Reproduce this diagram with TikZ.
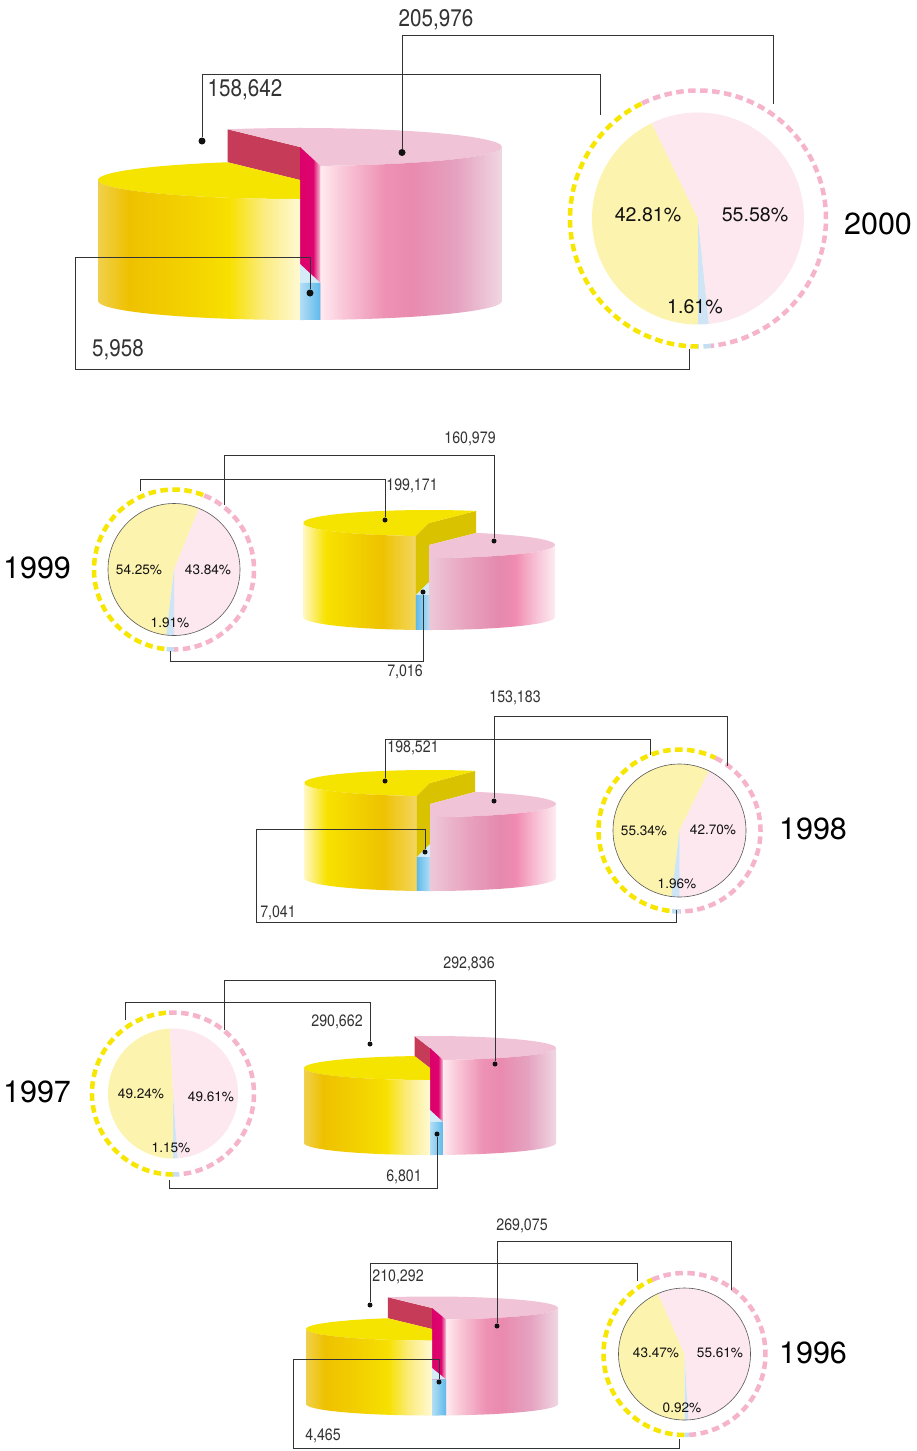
\documentclass[tikz,border=0pt]{standalone}
\usepackage{fontspec}
\setmainfont{TeX Gyre Heros}
\newfontfamily\condfont[FakeStretch=0.86]{TeX Gyre Heros}
\usepackage{xcolor}
\definecolor{Ink}{HTML}{111111}
\definecolor{Lead}{HTML}{333333}
\definecolor{PieYel}{HTML}{FCF3AE}
\definecolor{PiePink}{HTML}{FCE8EE}
\definecolor{PieBlue}{HTML}{CFE5F6}
\definecolor{RingYel}{HTML}{F7E600}
\definecolor{RingPink}{HTML}{F5B4CB}
\definecolor{RingBlue}{HTML}{C5DFF2}
\definecolor{TopYel}{HTML}{F5E400}
\definecolor{TopPink}{HTML}{F0C4D6}
\definecolor{TopBlue}{HTML}{D4EBF8}
\definecolor{CutRed}{HTML}{C63C58}
\definecolor{CutOlive}{HTML}{D9C200}
\definecolor{yA0}{HTML}{F0D04C}\definecolor{yA1}{HTML}{EEC100}\definecolor{yA2}{HTML}{F3D200}
\definecolor{yA3}{HTML}{F7E000}\definecolor{yA4}{HTML}{FBEC80}\definecolor{yA5}{HTML}{FFF9D4}
\definecolor{yB0}{HTML}{FFF8C4}\definecolor{yB1}{HTML}{F8E200}\definecolor{yB2}{HTML}{F2D200}
\definecolor{yB3}{HTML}{EEC200}\definecolor{yB4}{HTML}{F3D660}
\definecolor{pA0}{HTML}{FFEAF0}\definecolor{pA1}{HTML}{F9C8D8}\definecolor{pA2}{HTML}{EE92B4}
\definecolor{pA3}{HTML}{E98AAE}\definecolor{pA4}{HTML}{E5A2C0}\definecolor{pA5}{HTML}{F0D6E2}
\definecolor{pB0}{HTML}{EDC8D8}\definecolor{pB1}{HTML}{E8A2BE}\definecolor{pB2}{HTML}{E48AAE}
\definecolor{pB3}{HTML}{F08AB0}\definecolor{pB4}{HTML}{F8C2D6}\definecolor{pB5}{HTML}{FDEBF1}
\definecolor{bA0}{HTML}{B4DEF5}\definecolor{bA1}{HTML}{5EBAEB}
\definecolor{mA0}{HTML}{DC006A}\definecolor{mA1}{HTML}{DE0470}\definecolor{mA2}{HTML}{F7C4D6}
\pgfdeclarehorizontalshading{yelA}{100bp}{color(0bp)=(yA0); color(25bp)=(yA0); color(32.5bp)=(yA1); color(47.5bp)=(yA2); color(57.5bp)=(yA3); color(66bp)=(yA4); color(75bp)=(yA5); color(100bp)=(yA5)}
\pgfdeclarehorizontalshading{yelB}{100bp}{color(0bp)=(yB0); color(25bp)=(yB0); color(35bp)=(yB1); color(47.5bp)=(yB2); color(60bp)=(yB3); color(75bp)=(yB4); color(100bp)=(yB4)}
\pgfdeclarehorizontalshading{pinkA}{100bp}{color(0bp)=(pA0); color(25bp)=(pA0); color(31bp)=(pA1); color(42.5bp)=(pA2); color(50bp)=(pA3); color(62.5bp)=(pA4); color(75bp)=(pA5); color(100bp)=(pA5)}
\pgfdeclarehorizontalshading{pinkB}{100bp}{color(0bp)=(pB0); color(25bp)=(pB0); color(40bp)=(pB1); color(52.5bp)=(pB2); color(59bp)=(pB3); color(67.5bp)=(pB4); color(75bp)=(pB5); color(100bp)=(pB5)}
\pgfdeclarehorizontalshading{blueA}{100bp}{color(0bp)=(bA0); color(25bp)=(bA0); color(75bp)=(bA1); color(100bp)=(bA1)}
\pgfdeclarehorizontalshading{blueB}{100bp}{color(0bp)=(bA1); color(25bp)=(bA1); color(75bp)=(bA0); color(100bp)=(bA0)}
\pgfdeclarehorizontalshading{magA}{100bp}{color(0bp)=(mA0); color(25bp)=(mA0); color(57bp)=(mA1); color(75bp)=(mA2); color(100bp)=(mA2)}
% pie: centre, radius, ring radius, yellow from, split, pink to, rim style
\newcommand{\flatpie}[7]{%
  \fill[PieYel] (#1) -- ++({#2*cos(#4)},{#2*sin(#4)}) arc[start angle=#4,end angle=#5,radius=#2] -- cycle;
  \fill[PiePink] (#1) -- ++({#2*cos(#5)},{#2*sin(#5)}) arc[start angle=#5,end angle=#6,radius=#2] -- cycle;
  \fill[PieBlue] (#1) -- ++({#2*cos(#6)},{#2*sin(#6)}) arc[start angle=#6,end angle=#4+360,radius=#2] -- cycle;
  \draw[#7] (#1) circle[radius=#2];
  \draw[ring,RingYel] (#1) ++({#3*cos(#4)},{#3*sin(#4)}) arc[start angle=#4,end angle=#5,radius=#3];
  \draw[ring,RingPink] (#1) ++({#3*cos(#5)},{#3*sin(#5)}) arc[start angle=#5,end angle=#6,radius=#3];
  \draw[ring,RingBlue] (#1) ++({#3*cos(#6)},{#3*sin(#6)}) arc[start angle=#6,end angle=#4+360,radius=#3];}
% cylinder, pink tall: cx, rx, ry, yellow top, pink top, blue top, bottom, split, pink end
\newcommand{\cylA}[9]{%
  \fill[CutRed] (#1,#5) -- ++({#2*cos(#8)},{#3*sin(#8)}) -- ++(0,#4-#5) -- (#1,#4) -- cycle;
  \fill[TopPink] (#1,#5) -- ++({#2*cos(#8)},{#3*sin(#8)}) arc[start angle=#8,end angle=#9+360,x radius=#2,y radius=#3] -- cycle;
  \shade[shading=pinkA] ({#1+#2},#5) arc[start angle=0,end angle=#9,x radius=#2,y radius=#3] -- ++(0,#7-#5) arc[start angle=#9,end angle=0,x radius=#2,y radius=#3] -- cycle;
  \shade[shading=magA] (#1,#5) -- ++({#2*cos(#9)},{#3*sin(#9)}) -- ++(0,#7-#5) -- (#1,#7) -- cycle;
  \fill[TopYel] (#1,#4) -- ++(0,#3) arc[start angle=90,end angle=#8,x radius=#2,y radius=#3] -- cycle;
  \shade[shading=yelA] (#1,{#4+#3}) arc[start angle=90,end angle=180,x radius=#2,y radius=#3] -- ++(0,#7-#4) arc[start angle=180,end angle=90,x radius=#2,y radius=#3] -- cycle;
  \fill[TopBlue] (#1,#6) -- ++({#2*cos(#9)},{#3*sin(#9)}) arc[start angle=#9,end angle=90,x radius=#2,y radius=#3] -- cycle;
  \shade[shading=blueA] ({#1+#2*cos(#9)},{#6+#3*sin(#9)}) arc[start angle=#9,end angle=90,x radius=#2,y radius=#3] -- ++(0,#7-#6) arc[start angle=90,end angle=#9,x radius=#2,y radius=#3] -- cycle;}
% cylinder, yellow tall: cx, rx, ry, yellow top, pink top, blue top, bottom, yellow start, split
\newcommand{\cylB}[9]{%
  \fill[CutOlive] (#1,#4) -- ++({#2*cos(#9)},{#3*sin(#9)}) -- ++(0,#5-#4) -- (#1,#5) -- cycle;
  \fill[TopYel] (#1,#4) -- ++({#2*cos(#8)},{#3*sin(#8)}) arc[start angle=#8,end angle=#9,x radius=#2,y radius=#3] -- cycle;
  \shade[shading=yelB] ({#1+#2*cos(#8)},{#4+#3*sin(#8)}) arc[start angle=#8,end angle=180,x radius=#2,y radius=#3] -- ++(0,#7-#4) arc[start angle=180,end angle=#8,x radius=#2,y radius=#3] -- cycle;
  \fill[CutOlive] (#1,#4) -- ++({#2*cos(#8)},{#3*sin(#8)}) -- ++(0,#7-#4) -- (#1,#7) -- cycle;
  \fill[TopPink] (#1,#5) -- ++({#2*cos(#9)},{#3*sin(#9)}) arc[start angle=#9,end angle=450,x radius=#2,y radius=#3] -- cycle;
  \shade[shading=pinkB] ({#1+#2},#5) arc[start angle=0,end angle=90,x radius=#2,y radius=#3] -- ++(0,#7-#5) arc[start angle=90,end angle=0,x radius=#2,y radius=#3] -- cycle;
  \fill[TopBlue] (#1,#6) -- ++(0,#3) arc[start angle=90,end angle=#8,x radius=#2,y radius=#3] -- cycle;
  \shade[shading=blueB] (#1,{#6+#3}) arc[start angle=90,end angle=#8,x radius=#2,y radius=#3] -- ++(0,#7-#6) arc[start angle=#8,end angle=90,x radius=#2,y radius=#3] -- cycle;}

\begin{document}
\begin{tikzpicture}[x=1pt,y=-1pt,every node/.style={text=Ink,inner sep=0pt,text depth=0pt},
  conn/.style={draw=Lead,line width=1pt},
  dot/.style={circle,fill=Ink,inner sep=0pt,minimum size=5pt},
  bigdot/.style={dot,minimum size=7pt},
  val/.style={font=\condfont\fontsize{16.5}{20}\selectfont,text=Lead},
  bigval/.style={font=\condfont\fontsize{24}{28}\selectfont,text=Lead},
  pct/.style={font=\fontsize{13.6}{16}\selectfont},
  bigpct/.style={font=\fontsize{19.6}{23}\selectfont},
  yr/.style={font=\fontsize{30.5}{36}\selectfont,text=black},
  rim/.style={draw=Ink!70,line width=0.6pt},
  ring/.style={line width=4.5pt,dash pattern=on 7.5pt off 4.5pt}]
\useasboundingbox (0,0) rectangle (917,1451);
\fill[white] (0,0) rectangle (917,1451);
\coordinate (p2000) at (698,218.5);
\coordinate (p1999) at (174,569.5);
\coordinate (p1998) at (679.5,830.5);
\coordinate (p1997) at (173,1093.5);
\coordinate (p1996) at (684.5,1354);
\flatpie{p2000}{106}{128}{90}{244.1}{444.2}{draw=none}
\flatpie{p1999}{66}{80}{96.9}{292.2}{450}{rim}
\flatpie{p1998}{66.5}{81}{97.1}{296.3}{450}{rim}
\flatpie{p1997}{65}{81}{90}{267.3}{445.9}{draw=none}
\flatpie{p1996}{66}{81}{90}{246.5}{446.7}{rim}
\cylA{300}{202}{19}{180}{147}{264}{301}{249}{84.2}
\cylB{429}{126}{13}{523}{545}{582}{617}{96}{292}
\cylB{430}{126}{13}{783}{804}{844}{878}{96}{291}
\cylA{430}{126}{12}{1068}{1048}{1110}{1143}{263}{84.1}
\cylA{432}{126}{11.5}{1329}{1308}{1368}{1404}{249.5}{83.6}

\node[bigpct] (q2000y) at (648,215) {42.81\%};
\node[bigpct] (q2000p) at (755,215) {55.58\%};
\node[bigpct] (q2000b) at (695,307) {1.61\%};
\node[pct] (q1999y) at (139,570) {54.25\%};
\node[pct] (q1999p) at (208,570) {43.84\%};
\node[pct] (q1999b) at (170,623) {1.91\%};
\node[pct] (q1998y) at (644,831) {55.34\%};
\node[pct] (q1998p) at (713,830) {42.70\%};
\node[pct] (q1998b) at (677,884) {1.96\%};
\node[pct] (q1997y) at (141,1094) {49.24\%};
\node[pct] (q1997p) at (211,1097) {49.61\%};
\node[pct] (q1997b) at (171,1148) {1.15\%};
\node[pct] (q1996y) at (656,1353) {43.47\%};
\node[pct] (q1996p) at (720,1353) {55.61\%};
\node[pct] (q1996b) at (682,1408) {0.92\%};

\node[yr] (y2000) at (878,224) {2000};
\node[yr] (y1999) at (37,568) {1999};
\node[yr] (y1998) at (813,829) {1998};
\node[yr] (y1997) at (37,1092) {1997};
\node[yr] (y1996) at (813,1353) {1996};

\node[bigdot] (d2000y) at (202,141) {};
\node[bigdot] (d2000p) at (402,152.5) {};
\node[bigdot] (d2000b) at (310,293) {};
\node[dot] (d1999y) at (385,520) {};
\node[dot] (d1999p) at (494,541) {};
\node[dot] (d1999b) at (423,592) {};
\node[dot] (d1998y) at (385,781) {};
\node[dot] (d1998p) at (494,801) {};
\node[dot] (d1998b) at (425,852) {};
\node[dot] (d1997y) at (370,1044) {};
\node[dot] (d1997p) at (495,1064) {};
\node[dot] (d1997b) at (437,1134) {};
\node[dot] (d1996y) at (370,1305) {};
\node[dot] (d1996p) at (497,1326) {};
\node[dot] (d1996b) at (439,1382) {};

\coordinate (e2000y) at (600,115);\coordinate (k2000y) at (600,74);
\coordinate (e2000p) at (773,104);\coordinate (k2000p) at (773,35);
\coordinate (e2000b) at (689,349);\coordinate (k2000b) at (75,257);\coordinate (m2000b) at (689,369);
\coordinate (e1999y) at (140,491);\coordinate (k1999y) at (140,479);
\coordinate (e1999p) at (224,505);\coordinate (k1999p) at (224,455);
\coordinate (e1999b) at (170,651);\coordinate (k1999b) at (170,661);
\coordinate (e1998y) at (650,755);\coordinate (k1998y) at (650,739);
\coordinate (e1998p) at (727,766);\coordinate (k1998p) at (727,716);
\coordinate (e1998b) at (676,910);\coordinate (k1998b) at (256,829);\coordinate (m1998b) at (676,922);
\coordinate (e1997y) at (125,1020);\coordinate (k1997y) at (125,1002);
\coordinate (e1997p) at (224,1030);\coordinate (k1997p) at (224,980);
\coordinate (e1997b) at (169,1180);\coordinate (k1997b) at (169,1188);
\coordinate (e1996y) at (637,1281);\coordinate (k1996y) at (637,1263);
\coordinate (e1996p) at (731,1290);\coordinate (k1996p) at (731,1241);
\coordinate (e1996b) at (679,1439);\coordinate (k1996b) at (293,1359);\coordinate (m1996b) at (679,1448);

\draw[conn] (d2000y) |- (k2000y) -- (e2000y);
\draw[conn] (d2000p) |- (k2000p) -- (e2000p);
\draw[conn] (d2000b) |- (k2000b) |- (m2000b) -- (e2000b);
\draw[conn] (d1999y) |- (k1999y) -- (e1999y);
\draw[conn] (d1999p) |- (k1999p) -- (e1999p);
\draw[conn] (d1999b) |- (k1999b) -- (e1999b);
\draw[conn] (d1998y) |- (k1998y) -- (e1998y);
\draw[conn] (d1998p) |- (k1998p) -- (e1998p);
\draw[conn] (d1998b) |- (k1998b) |- (m1998b) -- (e1998b);
\draw[conn] (d1997y) |- (k1997y) -- (e1997y);
\draw[conn] (d1997p) |- (k1997p) -- (e1997p);
\draw[conn] (d1997b) |- (k1997b) -- (e1997b);
\draw[conn] (d1996y) |- (k1996y) -- (e1996y);
\draw[conn] (d1996p) |- (k1996p) -- (e1996p);
\draw[conn] (d1996b) |- (k1996b) |- (m1996b) -- (e1996b);

\node[bigval] (v2000y) at (245,88) {158,642};
\node[bigval] (v2000p) at (436,18) {205,976};
\node[bigval] (v2000b) at (118,348) {5,958};
\node[val] (v1999y) at (412,485) {199,171};
\node[val] (v1999p) at (470,438) {160,979};
\node[val] (v1999b) at (405,671) {7,016};
\node[val] (v1998y) at (413,747) {198,521};
\node[val] (v1998p) at (515,697) {153,183};
\node[val] (v1998b) at (278,912) {7,041};
\node[val] (v1997y) at (337,1021) {290,662};
\node[val] (v1997p) at (469,963) {292,836};
\node[val] (v1997b) at (404,1176) {6,801};
\node[val] (v1996y) at (398,1276) {210,292};
\node[val] (v1996p) at (522,1225) {269,075};
\node[val] (v1996b) at (323,1435) {4,465};
\end{tikzpicture}
\end{document}
